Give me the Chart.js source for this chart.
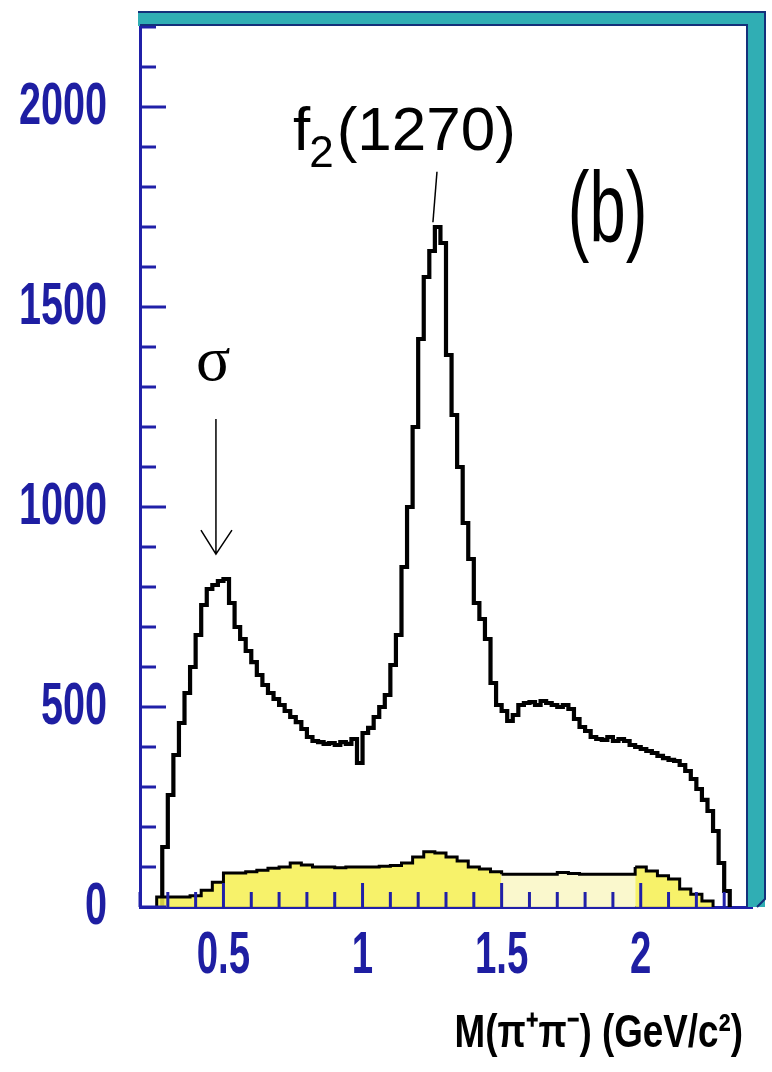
<!DOCTYPE html>
<html lang="en">
<head>
<meta charset="UTF-8">
<title>M(π+π-) spectrum (b)</title>
<script src="https://cdn.jsdelivr.net/npm/chart.js"></script>
<style>
 body { margin: 0; background: #fff; }
 #wrap { width: 772px; height: 1072px; }
</style>
</head>
<body>
<div id="wrap"><canvas id="c"></canvas></div>
<script>
// main spectrum: 0.02 GeV bins starting at 0.28
const mainStart = 0.28, mainWidth = 0.02;
const mainCounts = [
  150, 280, 380, 460, 535, 600, 680, 755, 795, 805,
  815, 820, 760, 700, 670, 640, 612, 580, 555, 535,
  520, 505, 490, 475, 462, 445, 425, 415, 412, 408,
  410, 405, 412, 408, 420, 360, 435, 448, 475, 500,
  530, 605, 680, 850, 1000, 1200, 1420, 1575, 1640, 1700,
  1660, 1380, 1230, 1100, 960, 870, 760, 720, 670, 560,
  505, 490, 465, 480, 505, 510, 512, 505, 515, 510,
  505, 500, 505, 495, 470, 450, 440, 425, 420, 418,
  425, 415, 420, 415, 405, 400, 395, 390, 385, 378,
  372, 368, 365, 355, 340, 320, 295, 268, 240, 190,
  110, 40
];
// background (yellow): 0.04 GeV bins starting at 0.26
const bgStart = 0.26, bgWidth = 0.04;
const bgCounts = [
  25, 25, 25, 28, 42, 62, 85, 85, 88, 92,
  97, 100, 110, 105, 100, 100, 98, 100, 100, 100,
  102, 104, 110, 125, 138, 135, 125, 115, 100, 95,
  88, 82, 82, 82, 82, 82, 86, 84, 82, 82,
  82, 82, 82, 100, 90, 78, 70, 45, 32, 15
];
const yLabels = [0, 500, 1000, 1500, 2000];
const xLabels = [0.5, 1, 1.5, 2];
const xTitle = 'M(π⁺π⁻) (GeV/c²)';

const axisBlue = '#2020a8';
const labelBlue = '#1e1ea2';
const teal = '#30aeb4';
const sans = '"Liberation Sans", Arial, sans-serif';

function stepPoints(start, width, counts) {
  let pts = [{ x: start, y: 0 }];
  counts.forEach((v, i) => pts.push({ x: +(start + i * width).toFixed(3), y: v }));
  pts.push({ x: +(start + counts.length * width).toFixed(3), y: 0 });
  return pts;
}

// narrow (squashed) text, like the old plotting fonts
function squashed(ctx, txt, x, y, sx) {
  ctx.save();
  ctx.translate(x, y);
  ctx.scale(sx, 1);
  ctx.fillText(txt, 0, 0);
  ctx.restore();
}

// inward tick marks on left and bottom axes
const innerTicks = {
  id: 'innerTicks',
  afterDraw(chart) {
    const ctx = chart.ctx, xs = chart.scales.x, ys = chart.scales.y;
    const a = chart.chartArea;
    ctx.save();
    ctx.strokeStyle = axisBlue;
    ctx.lineWidth = 3;
    ys.ticks.forEach(t => {
      const py = ys.getPixelForValue(t.value);
      const len = yLabels.includes(t.value) ? 26 : 16;
      ctx.beginPath(); ctx.moveTo(a.left, py); ctx.lineTo(a.left + len, py); ctx.stroke();
    });
    xs.ticks.forEach(t => {
      const px = xs.getPixelForValue(t.value);
      const major = xLabels.some(v => Math.abs(v - t.value) < 1e-6);
      const len = major ? 24 : 15;
      ctx.beginPath(); ctx.moveTo(px, a.bottom); ctx.lineTo(px, a.bottom - len); ctx.stroke();
    });
    ctx.restore();
  }
};

// tick labels and axis title
const axisText = {
  id: 'axisText',
  afterDraw(chart) {
    const ctx = chart.ctx, xs = chart.scales.x, ys = chart.scales.y;
    const a = chart.chartArea;
    ctx.save();
    ctx.fillStyle = labelBlue;
    ctx.font = 'bold 60px ' + sans;
    ctx.textBaseline = 'middle';
    ctx.textAlign = 'right';
    yLabels.forEach(v => squashed(ctx, String(v), a.left - 33, ys.getPixelForValue(v), 0.66));
    ctx.textAlign = 'center';
    xLabels.forEach(v => squashed(ctx, String(v), xs.getPixelForValue(v), a.bottom + 49, 0.64));
    ctx.fillStyle = '#000';
    ctx.font = 'bold 46px ' + sans;
    ctx.textAlign = 'right';
    ctx.textBaseline = 'alphabetic';
    squashed(ctx, xTitle, a.right - 9, a.bottom + 140, 0.8);
    ctx.restore();
  }
};

// teal top and right frame
const frame = {
  id: 'frame',
  afterDraw(chart) {
    const ctx = chart.ctx, a = chart.chartArea;
    ctx.save();
    ctx.fillStyle = teal;
    ctx.fillRect(a.left - 2, a.top - 15, a.right - a.left + 15, 14);
    ctx.fillRect(a.right - 5, a.top - 15, 18, a.bottom - a.top + 15);
    ctx.strokeStyle = '#14307a';
    ctx.lineWidth = 2;
    ctx.beginPath();
    ctx.moveTo(a.left - 2, a.top - 15); ctx.lineTo(a.right + 13, a.top - 15);
    ctx.lineTo(a.right + 13, a.bottom - 8); ctx.lineTo(a.right + 5, a.bottom);
    ctx.moveTo(a.left, a.top - 2); ctx.lineTo(a.right - 5, a.top - 2);
    ctx.lineTo(a.right - 5, a.bottom);
    ctx.stroke();
    ctx.restore();
  }
};

// peak labels and arrows
const notes = {
  id: 'notes',
  afterDraw(chart) {
    const ctx = chart.ctx, xs = chart.scales.x, ys = chart.scales.y;
    const X = v => xs.getPixelForValue(v), Y = v => ys.getPixelForValue(v);
    ctx.save();
    ctx.fillStyle = '#000';
    ctx.strokeStyle = '#000';
    ctx.textBaseline = 'alphabetic';
    ctx.textAlign = 'left';
    // f2(1270)
    let px = X(0.75), py = Y(1892);
    ctx.font = '62px ' + sans;
    ctx.fillText('f', px, py);
    const fw = ctx.measureText('f').width;
    ctx.font = '44px ' + sans;
    ctx.fillText('2', px + fw - 1, py + 17);
    const sw = ctx.measureText('2').width;
    ctx.font = '62px ' + sans;
    ctx.fillText('(1270)', px + fw + sw + 2, py);
    ctx.lineWidth = 1.5;
    ctx.beginPath(); ctx.moveTo(X(1.2676), Y(1838)); ctx.lineTo(X(1.253), Y(1712)); ctx.stroke();
    // sigma
    ctx.font = '64px "Liberation Serif", "Times New Roman", serif';
    ctx.fillText('σ', X(0.401), Y(1317));
    const ax = X(0.473), ay0 = Y(1220), ay1 = Y(882);
    ctx.beginPath();
    ctx.moveTo(ax, ay0); ctx.lineTo(ax, ay1);
    ctx.moveTo(ax - 15, ay1 - 24); ctx.lineTo(ax, ay1); ctx.lineTo(ax + 16, ay1 - 24);
    ctx.stroke();
    // (b)
    ctx.font = '100px ' + sans;
    squashed(ctx, '(b)', X(1.738), Y(1662), 0.65);
    ctx.restore();
  }
};

new Chart(document.getElementById('c'), {
  type: 'line',
  data: {
    datasets: [
      {
        label: 'background',
        data: stepPoints(bgStart, bgWidth, bgCounts),
        stepped: true,
        borderColor: '#000',
        borderWidth: 3,
        backgroundColor: 'rgba(246,240,80,0.85)',
        fill: 'origin',
        pointRadius: 0,
        segment: {
          backgroundColor: c => (c.p0.parsed.x >= 1.5 && c.p0.parsed.x < 1.98) ? 'rgba(250,247,200,0.9)' : undefined
        }
      },
      {
        label: 'data',
        data: stepPoints(mainStart, mainWidth, mainCounts),
        stepped: true,
        borderColor: '#000',
        borderWidth: 4.2,
        fill: false,
        pointRadius: 0
      }
    ]
  },
  options: {
    responsive: true,
    maintainAspectRatio: false,
    animation: false,
    devicePixelRatio: 1,
    layout: { padding: { top: 27, right: 20, left: 0, bottom: 0 } },
    plugins: { legend: { display: false }, tooltip: { enabled: false } },
    scales: {
      x: {
        type: 'linear',
        min: 0.2, max: 2.4,
        afterFit: s => { s.height = 165; },
        grid: { display: false, drawTicks: false },
        border: { display: true, color: axisBlue, width: 3 },
        ticks: { display: false, stepSize: 0.1, autoSkip: false, maxRotation: 0 }
      },
      y: {
        min: 0, max: 2200,
        afterFit: s => { s.width = 140; },
        grid: { display: false, drawTicks: false },
        border: { display: true, color: axisBlue, width: 3 },
        ticks: { display: false, stepSize: 100, autoSkip: false }
      }
    }
  },
  plugins: [innerTicks, axisText, frame, notes]
});
</script>
</body>
</html>
